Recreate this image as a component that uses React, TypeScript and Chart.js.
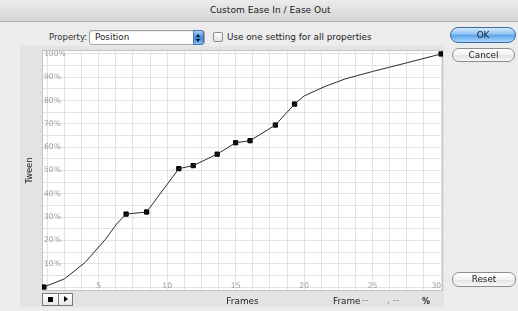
import React, { useEffect, useRef } from "react";
import { Chart, registerables } from "chart.js";

Chart.register(...registerables);

// Curve (frame, tween %)
const curveFrames = [1, 2.5, 4, 5.5, 6.3, 7, 8.5, 10.85, 11.9, 13.65, 15, 16.05, 17.9, 19.3, 20, 21.5, 23, 25, 27.5, 30];
const curveTween = [0, 3.5, 10.5, 20.5, 27, 31.3, 32.2, 50.8, 52.1, 57.0, 61.9, 62.8, 69.5, 78.5, 82, 86, 89.3, 92.5, 96.2, 100];

// Key frame markers (black squares)
const keyFrames = [1, 7, 8.5, 10.85, 11.9, 13.65, 15, 16.05, 17.9, 19.3, 30];
const keyTween = [0, 31.3, 32.2, 50.8, 52.1, 57.0, 61.9, 62.8, 69.5, 78.5, 100];

// Grid and tick labels
const frameGridTicks = [1.25, 2.5, 3.75, 5, 6.25, 7.5, 8.75, 10, 11.25, 12.5, 13.75, 15, 16.25, 17.5, 18.75, 20, 21.25, 22.5, 23.75, 25, 26.25, 27.5, 28.75, 30];
const frameLabelTicks = [5, 10, 15, 20, 25, 30];
const tweenGridTicks = [0, 5, 10, 15, 20, 25, 30, 35, 40, 45, 50, 55, 60, 65, 70, 75, 80, 85, 90, 95, 100];
const tweenLabelTicks = [10, 20, 30, 40, 50, 60, 70, 80, 90, 100];

const FONT = '"DejaVu Sans", "Noto Sans", sans-serif';

const plotBg = {
  id: "plotBg",
  beforeDraw(chart: any) {
    const { ctx, chartArea: a } = chart;
    ctx.save();
    ctx.fillStyle = "#ffffff";
    ctx.fillRect(a.left, a.top, a.right - a.left, a.bottom - a.top);
    ctx.restore();
  },
  beforeDatasetsDraw(chart: any) {
    const { ctx, chartArea: a } = chart;
    ctx.save();
    ctx.strokeStyle = "#c4c4c4";
    ctx.lineWidth = 1;
    ctx.strokeRect(a.left + 0.5, a.top + 0.5, a.right - a.left - 1, a.bottom - a.top - 1);
    ctx.restore();
  },
};

const abs = (l: number, t: number, extra: any = {}) => ({ position: "absolute" as const, left: l, top: t, ...extra });

export default function App() {
  const ref = useRef<HTMLCanvasElement | null>(null);

  useEffect(() => {
    if (!ref.current) return;
    const chart = new Chart(ref.current, {
      type: "line",
      data: {
        datasets: [
          {
            label: "Ease curve",
            data: curveFrames.map((f, i) => ({ x: f, y: curveTween[i] })),
            borderColor: "#2b2b2b",
            borderWidth: 1,
            pointRadius: 0,
            tension: 0,
            fill: false,
          },
          {
            label: "Keyframes",
            data: keyFrames.map((f, i) => ({ x: f, y: keyTween[i] })),
            showLine: false,
            pointStyle: "rect",
            pointRadius: 3,
            pointBackgroundColor: "#000",
            pointBorderColor: "#000",
            pointBorderWidth: 1,
          },
        ],
      },
      options: {
        responsive: false,
        animation: false,
        devicePixelRatio: 1,
        layout: { padding: { left: 0, right: 75, top: 50, bottom: 0 } },
        plugins: { legend: { display: false }, tooltip: { enabled: false } },
        scales: {
          x: {
            type: "linear",
            position: "bottom",
            min: 0.86,
            max: 30.14,
            afterBuildTicks: (s: any) => {
              s.ticks = frameGridTicks.map((v) => ({ value: v }));
            },
            afterFit: (s: any) => {
              s.height = 20;
            },
            grid: { color: "#e3e3e3", drawTicks: false, lineWidth: 1 },
            border: { display: false },
            ticks: {
              autoSkip: false,
              maxRotation: 0,
              minRotation: 0,
              align: "inner",
              mirror: true,
              padding: 0,
              color: "#9c9c9c",
              font: { family: FONT, size: 7.6 },
              callback: (v: any) => (frameLabelTicks.includes(Number(v)) ? String(v) : ""),
            },
            title: {
              display: true,
              text: "Frames",
              color: "#1a1a1a",
              font: { family: FONT, size: 8.9 },
              padding: { top: 0, bottom: 4 },
            },
          },
          y: {
            type: "linear",
            position: "left",
            min: -1.7,
            max: 101.7,
            afterBuildTicks: (s: any) => {
              s.ticks = tweenGridTicks.map((v) => ({ value: v }));
            },
            afterFit: (s: any) => {
              s.width = 42;
            },
            grid: { color: "#e3e3e3", drawTicks: false, lineWidth: 1 },
            border: { display: false },
            ticks: {
              autoSkip: false,
              mirror: true,
              padding: 2,
              color: "#9c9c9c",
              font: { family: FONT, size: 7.6 },
              callback: (v: any) => (tweenLabelTicks.includes(Number(v)) ? v + "%" : ""),
            },
            title: {
              display: true,
              text: "Tween",
              color: "#1a1a1a",
              font: { family: FONT, size: 8.3 },
              padding: { top: 25, bottom: 0 },
            },
          },
        },
      },
      plugins: [plotBg],
    } as any);
    return () => chart.destroy();
  }, []);

  const text = { fontFamily: FONT, fontSize: 8.8, color: "#1c1c1c", whiteSpace: "nowrap" as const, lineHeight: "11px" };

  return (
    <div
      style={{
        position: "fixed",
        left: 0,
        top: 0,
        width: 518,
        height: 311,
        overflow: "hidden",
        background: "#ececec",
        ...text,
      }}
    >
      {/* title bar */}
      <div
        style={abs(0, 0, {
          width: 518,
          height: 21,
          background: "linear-gradient(#ececec, #d4d4d4)",
          borderBottom: "1px solid #b4b4b4",
        })}
      />
      <div style={abs(210, 5, { fontSize: 9.1 })}>Custom Ease In / Ease Out</div>

      {/* property row */}
      <div style={abs(49, 32, { fontSize: 8.5, color: "#333" })}>Property:</div>
      <div
        style={abs(89, 30, {
          width: 114,
          height: 13,
          background: "#fff",
          border: "1px solid #a2a2a2",
          borderRadius: 3,
          boxShadow: "inset 0 1px 1px rgba(0,0,0,0.08)",
        })}
      >
        <div style={abs(5, 1, { fontSize: 8.8 })}>Position</div>
        <div
          style={abs(103, -1, {
            width: 11,
            height: 15,
            borderRadius: "0 3px 3px 0",
            background: "linear-gradient(#a9d0f7, #3f8ee4 50%, #2f7cd6 51%, #8cc2f5)",
            border: "1px solid #4b73a8",
            boxSizing: "border-box",
          })}
        >
          <div style={abs(2, 2.5, { width: 0, height: 0, borderLeft: "2.5px solid transparent", borderRight: "2.5px solid transparent", borderBottom: "3px solid #000" })} />
          <div style={abs(2, 7.5, { width: 0, height: 0, borderLeft: "2.5px solid transparent", borderRight: "2.5px solid transparent", borderTop: "3px solid #000" })} />
        </div>
      </div>
      <div
        style={abs(213, 32, {
          width: 10,
          height: 10,
          boxSizing: "border-box",
          border: "1px solid #8c8c8c",
          borderRadius: 2,
          background: "linear-gradient(#ffffff, #e2e2e2)",
        })}
      />
      <div style={abs(227, 32)}>Use one setting for all properties</div>

      {/* graph panel */}
      <div style={abs(20, 46, { width: 424, height: 261, background: "#e3e3e3" })} />

      <canvas ref={ref} width={518} height={311} style={abs(0, 0, { width: 518, height: 311 })} />

      {/* buttons */}
      <div
        style={abs(450, 27, {
          width: 66,
          height: 16,
          boxSizing: "border-box",
          borderRadius: 8,
          border: "1px solid #3b6aa6",
          background: "linear-gradient(#d3e8fb, #8ec1f2 45%, #5aa2ec 50%, #a9d6fb)",
          textAlign: "center",
          lineHeight: "14px",
        })}
      >
        OK
      </div>
      <div
        style={abs(452, 48, {
          width: 63,
          height: 14,
          boxSizing: "border-box",
          borderRadius: 7,
          border: "1px solid #8d8d8d",
          background: "linear-gradient(#ffffff, #f1f1f1 50%, #e3e3e3 51%, #f8f8f8)",
          textAlign: "center",
          lineHeight: "12px",
        })}
      >
        Cancel
      </div>
      <div
        style={abs(452, 272, {
          width: 64,
          height: 15,
          boxSizing: "border-box",
          borderRadius: 7,
          border: "1px solid #8d8d8d",
          background: "linear-gradient(#ffffff, #f1f1f1 50%, #e3e3e3 51%, #f8f8f8)",
          textAlign: "center",
          lineHeight: "13px",
        })}
      >
        Reset
      </div>

      {/* stop / play */}
      <div
        style={abs(42, 293, {
          width: 17,
          height: 13,
          boxSizing: "border-box",
          border: "1px solid #7a7a7a",
          background: "linear-gradient(#ffffff, #e6e6e6)",
        })}
      >
        <div style={abs(5, 3, { width: 5, height: 5, background: "#000" })} />
      </div>
      <div
        style={abs(58, 293, {
          width: 15,
          height: 13,
          boxSizing: "border-box",
          border: "1px solid #7a7a7a",
          background: "linear-gradient(#ffffff, #e6e6e6)",
        })}
      >
        <div style={abs(5, 2, { width: 0, height: 0, borderTop: "3.5px solid transparent", borderBottom: "3.5px solid transparent", borderLeft: "4px solid #000" })} />
      </div>

      {/* frame readout */}
      <div style={abs(333, 296)}>Frame</div>
      <div style={abs(362, 295, { color: "#8a8a8a" })}>--</div>
      <div style={abs(387, 295, { color: "#8a8a8a" })}>, --</div>
      <div style={abs(422, 296, { fontWeight: "bold", fontSize: 8 })}>%</div>
    </div>
  );
}
